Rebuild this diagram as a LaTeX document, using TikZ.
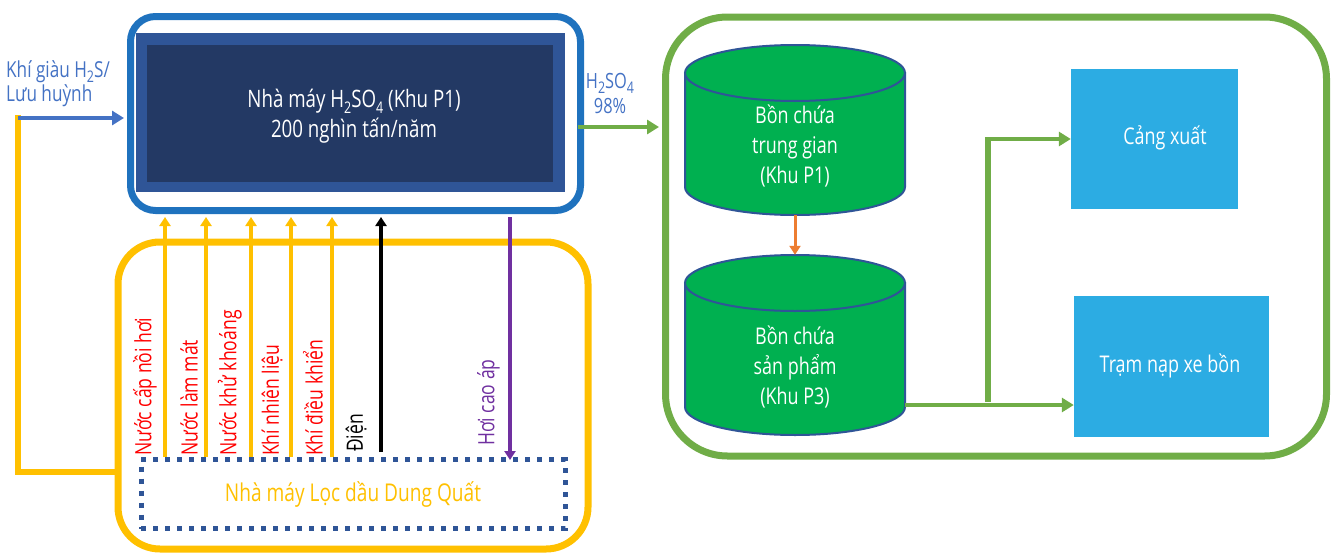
\documentclass[tikz,border=0pt]{standalone}
\usepackage{fontspec}
\setmainfont{Open Sans}[FakeStretch=0.78]
\usetikzlibrary{arrows.meta}

\definecolor{blueframe}{RGB}{31,114,190}
\definecolor{navyframe}{RGB}{47,85,151}
\definecolor{navyinner}{RGB}{35,57,100}
\definecolor{labelblue}{RGB}{68,114,196}
\definecolor{amber}{RGB}{255,192,0}
\definecolor{labelred}{RGB}{255,0,0}
\definecolor{steam}{RGB}{112,48,160}
\definecolor{leaf}{RGB}{112,173,71}
\definecolor{tankgreen}{RGB}{0,176,80}
\definecolor{tankedge}{RGB}{47,85,151}
\definecolor{flow}{RGB}{237,125,49}
\definecolor{sky}{RGB}{44,172,227}

\newcommand\subs[1]{\raisebox{-0.45ex}{\fontsize{16}{16}\selectfont #1}}

\tikzset{
  txt/.style={font=\fontsize{23}{30}\selectfont, inner sep=0pt, align=center},
  vlabel/.style={font=\fontsize{22.5}{24}\selectfont, inner sep=0pt, rotate=90, anchor=south west},
  tip/.style={-{Triangle[length=9pt,width=11pt]}},
  bigtip/.style={-{Triangle[length=12pt,width=14pt]}},
  supply/.style={tip, draw=amber, line width=3.5pt},
  greenflow/.style={bigtip, draw=leaf, line width=4.5pt},
  tankbody/.style={fill=tankgreen, draw=tankedge, line width=2pt},
  dest/.style={fill=sky, inner sep=0pt, text=white, txt}
}

\begin{document}
\begin{tikzpicture}[x=1pt,y=-1pt]
\useasboundingbox (0,0) rectangle (1335,554);

% ---- sulfuric acid plant ----
\node[draw=blueframe, line width=7pt, rounded corners=25pt,
      minimum width=450pt, minimum height=194pt, inner sep=0pt] (plant) at (355.5,113.5) {};
\node[fill=navyframe, minimum width=429pt, minimum height=159pt, inner sep=0pt] (plantrim) at (350.5,112.5) {};
\node[fill=navyinner, minimum width=406pt, minimum height=137pt, inner sep=0pt] (plantcore) at (350,113) {};
\node[txt, text=white, font=\fontsize{24}{30}\selectfont] (planttxt) at (354,116)
  {Nhà máy H\subs{2}SO\subs{4} (Khu P1)\\200 nghìn tấn/năm};

% ---- refinery ----
\node[draw=amber, line width=7pt, rounded corners=42pt,
      minimum width=470pt, minimum height=307pt, inner sep=0pt] (site) at (353,395.5) {};
\node[draw=navyframe, line width=5pt, dash pattern=on 5pt off 7pt,
      minimum width=424pt, minimum height=69pt, inner sep=0pt, txt, text=amber,
      font=\fontsize{24.5}{30}\selectfont] (refinery) at (353,494)
  {Nhà máy Lọc dầu Dung Quất};

% ---- feed gas and return line ----
\node[txt, anchor=north west, align=left, text=labelblue, font=\fontsize{22}{24}\selectfont] (feedlbl) at (6,60)
  {Khí giàu H\subs{2}S/\\Lưu huỳnh};
\coordinate (feed) at (18,118);
\coordinate (bend) at (18,472);
\draw[amber, line width=6pt] (18,115) -- (bend) -- (site.west |- bend);
\draw[bigtip, draw=labelblue, line width=4.5pt, shorten >=3pt] (feed) -- (plant.west |- feed);

% ---- utilities from refinery to plant ----
\foreach \x in {165,206,251,291,332}{
  \draw[supply, shorten >=3pt] (refinery.north -| \x,0) -- (plant.south -| \x,0);
}
\node[vlabel, text=labelred] (l1) at (157,456) {Nước cấp nồi hơi};
\node[vlabel, text=labelred] (l2) at (198,456) {Nước làm mát};
\node[vlabel, text=labelred] (l3) at (242,456) {Nước khử khoáng};
\node[vlabel, text=labelred] (l4) at (283,456) {Khí nhiên liệu};
\node[vlabel, text=labelred] (l5) at (323,456) {Khí điều khiển};
\coordinate (pwr) at (381,452);
\draw[tip, draw=black, line width=4pt, shorten >=3pt] (pwr) -- (plant.south -| pwr);
\node[vlabel, text=black] (l6) at (367,452) {Điện};
\coordinate (stm) at (510,460);
\draw[tip, draw=steam, line width=3.5pt, shorten <=3pt] (plant.south -| stm) -- (stm);
\node[vlabel, text=steam] (l7) at (500,446) {Hơi cao áp};

% ---- storage and export area ----
\node[draw=leaf, line width=7pt, rounded corners=62pt,
      minimum width=661pt, minimum height=439pt, inner sep=0pt] (store) at (996,236.5) {};

\coordinate (acid) at (578,127);
\draw[greenflow, shorten >=3pt] (acid) -- (store.west |- acid);
\node[txt, text=labelblue, font=\fontsize{21}{25}\selectfont] (acidlbl) at (610,93) {H\subs{2}SO\subs{4}\\98\%};

% intermediate tank
\path[tankbody] (685,73) -- (685,187) arc[start angle=180, end angle=0, x radius=110, y radius=28] -- (905,73) -- cycle;
\path[tankbody] (795,73) ellipse[x radius=110, y radius=28];
\node[minimum width=220pt, minimum height=170pt, inner sep=0pt] (tank1) at (795,130) {};
\node[txt, text=white] (tank1txt) at (795,146) {Bồn chứa\\trung gian\\(Khu P1)};

% product tank
\path[tankbody] (685,283) -- (685,407) arc[start angle=180, end angle=0, x radius=110, y radius=28] -- (905,283) -- cycle;
\path[tankbody] (795,283) ellipse[x radius=110, y radius=28];
\node[minimum width=220pt, minimum height=180pt, inner sep=0pt] (tank2) at (795,345) {};
\node[txt, text=white] (tank2txt) at (795,367) {Bồn chứa\\sản phẩm\\(Khu P3)};

\draw[tip, draw=flow, line width=3pt] (tank1.south) -- (tank2.north);

% destinations
\node[dest, minimum width=167pt, minimum height=140pt] (port) at (1154.5,139) {};
\node[txt, text=white] (porttxt) at (1165,138) {Cảng xuất};
\node[dest, minimum width=195pt, minimum height=141pt] (truck) at (1171.5,366.5) {};
\node[txt, text=white] (trucktxt) at (1170,366) {Trạm nạp xe bồn};

\coordinate (split) at (988,405);
\coordinate (riser) at (988,402);
\draw[greenflow] (tank2.east |- split) -- (truck.west |- split);
\draw[leaf, line width=6.5pt] (riser) -- (riser |- port);
\draw[greenflow] ([xshift=-3.25pt]riser |- port) -- (port.west);
\end{tikzpicture}
\end{document}
